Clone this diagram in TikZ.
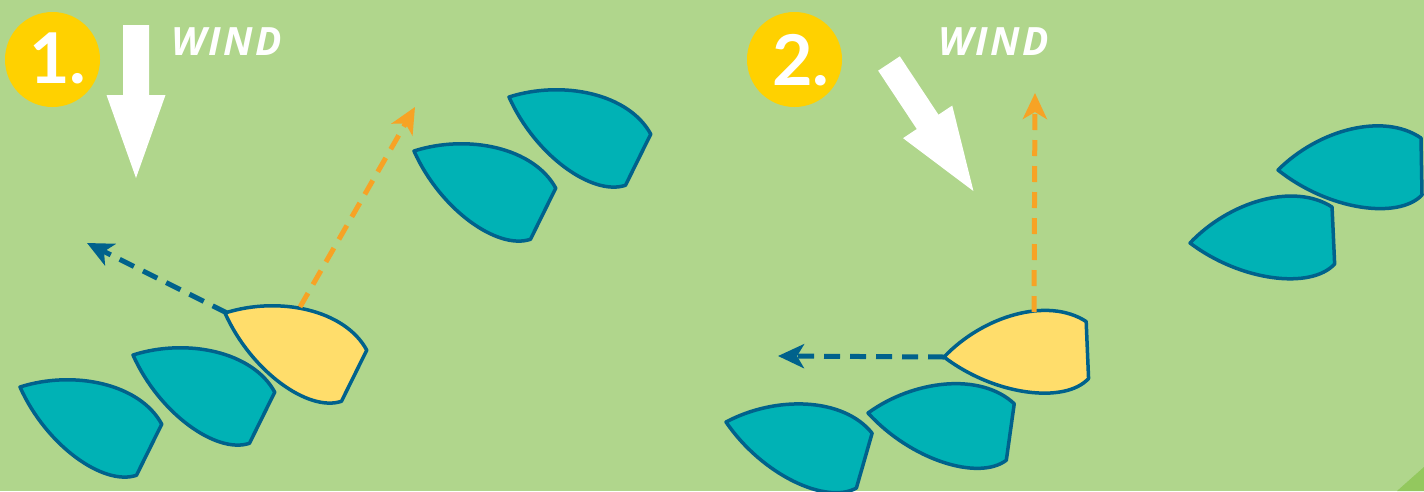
\documentclass[tikz,border=0pt]{standalone}
\usepackage{fontspec}
\usetikzlibrary{arrows.meta}
\newfontfamily\windfont{Open Sans}[LetterSpace=6]
\newfontfamily\numfont{Lato}
\definecolor{bg}{HTML}{B0D68C}
\definecolor{bgdark}{HTML}{93C85E}
\definecolor{tealc}{HTML}{00B2B5}
\definecolor{outl}{HTML}{00628C}
\definecolor{yboat}{HTML}{FFDD6B}
\definecolor{badge}{HTML}{FFD100}
\definecolor{orangec}{HTML}{F7A325}
\definecolor{navyc}{HTML}{00628C}
\tikzset{
  pics/boat/.style={code={
    \path[draw=outl,line width=3.5pt,line join=round,fill=#1]
      (0,0) .. controls (40,-40) and (105,-58) .. (143,-32)
      -- (144,25) .. controls (120,50) and (50,40) .. (0,0) -- cycle;}},
  pics/windarrow/.style={code={
    \fill[white] (-13,0) -- (13,0) -- (13,70) -- (29.5,70) -- (0,153)
      -- (-29.5,70) -- (-13,70) -- cycle;}},
  badgecirc/.style={circle,fill=badge,minimum size=95pt,inner sep=0pt},
  numtext/.style={text=white,font=\numfont\bfseries\fontsize{70}{70}\selectfont,inner sep=0pt},
  windtext/.style={text=white,font=\windfont\bfseries\itshape\fontsize{39}{39}\selectfont,inner sep=0pt},
  course/.style={draw=navyc,line width=5pt,dash pattern=on 16pt off 10pt,
    -{Stealth[length=26pt,width=24pt,inset=7pt]}},
  lift/.style={draw=orangec,line width=5pt,dash pattern=on 16pt off 10pt,
    -{Stealth[length=26pt,width=24pt,inset=7pt]}},
}
\begin{document}
\begin{tikzpicture}[x=1pt,y=-1pt]
\useasboundingbox (0,0) rectangle (1424,491);
\fill[bg] (0,0) rectangle (1424,491);
\fill[bgdark] (1397,491) -- (1424,467) -- (1424,491) -- cycle;
\begin{scope}
\clip (0,0) rectangle (1424,491);
% panel 1
\node[badgecirc] (b1) at (52.5,59.5) {};
\node[numtext,anchor=base] (n1) at (58,83) {1.};
\pic at (136,25) {windarrow};
\node[windtext,anchor=base west] (w1) at (171,55) {WIND};
\pic[rotate=-27.3] at (20,387) {boat=tealc};
\pic[rotate=-27.3] at (133,355) {boat=tealc};
\pic[rotate=-27.3] at (414,151) {boat=tealc};
\pic[rotate=-27.3] at (509,97) {boat=tealc};
\pic[rotate=-27.3] at (225,313) {boat=yboat};
\coordinate (y1bow) at (227,313);
\coordinate (y1top) at (300,307);
\coordinate (y1course) at (87,243);
\coordinate (y1lift) at (415,107);
\draw[course] (y1bow) -- (y1course);
\draw[lift] (y1top) -- (y1lift);
% panel 2
\node[badgecirc] (b2) at (794.5,59.5) {};
\node[numtext,anchor=base] (n2) at (801,85) {2.};
\pic[rotate=33.5] at (889,63.5) {windarrow};
\node[windtext,anchor=base west] (w2) at (938,55) {WIND};
\pic[rotate=-17] at (726,422) {boat=tealc};
\pic[rotate=-9] at (868,413) {boat=tealc};
\pic[rotate=0] at (1278,170) {boat=tealc};
\pic[rotate=1.6] at (1190,243) {boat=tealc};
\pic[rotate=1.4] at (944,357) {boat=yboat};
\coordinate (y2bow) at (944,357);
\coordinate (y2top) at (1034,312);
\coordinate (y2course) at (778,356);
\coordinate (y2lift) at (1035,93);
\draw[course] (y2bow) -- (y2course);
\draw[lift] (y2top) -- (y2lift);
\end{scope}
\end{tikzpicture}
\end{document}
